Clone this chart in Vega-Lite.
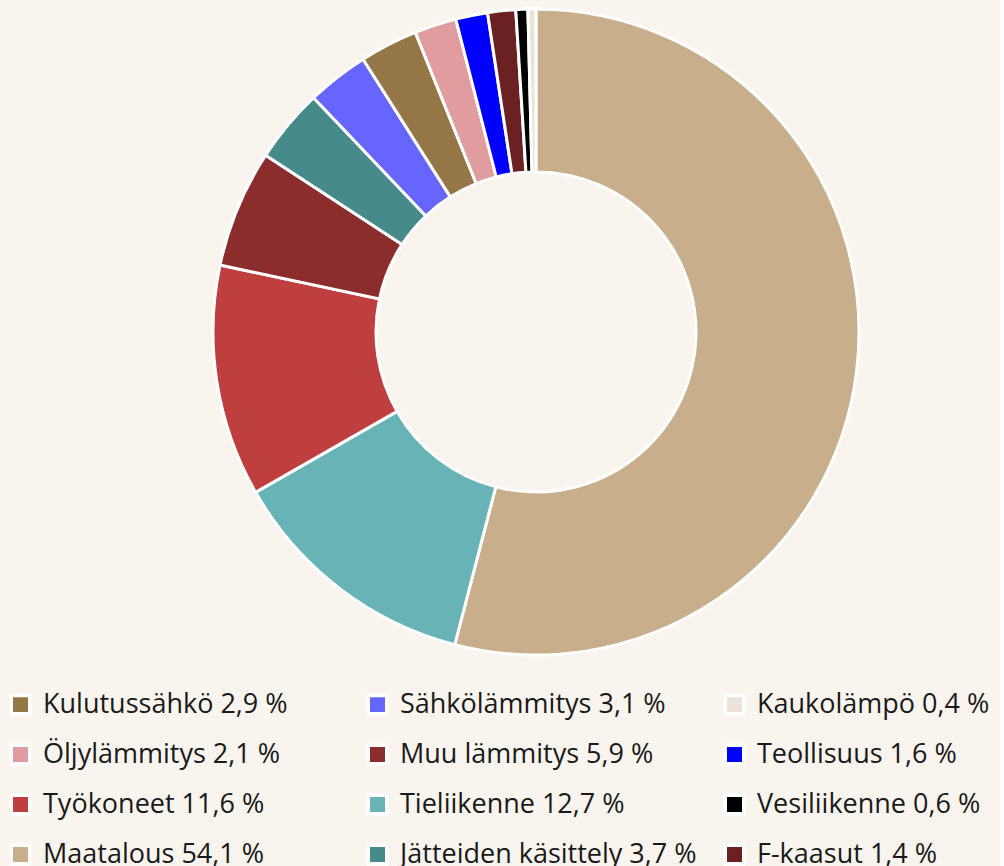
{
  "$schema": "https://vega.github.io/schema/vega-lite/v6.json",
  "width": 928,
  "height": 664,
  "padding": {"left": 7, "top": 0, "right": 0, "bottom": 0},
  "background": "#f9f4ee",
  "config": {"view": {"stroke": null}, "font": "Open Sans"},
  "data": {
    "values": [
      {"sektori": "Maatalous", "osuus": 54.1, "jarj": 1, "nimi": "Maatalous 54,1 %"},
      {"sektori": "Tieliikenne", "osuus": 12.7, "jarj": 2, "nimi": "Tieliikenne 12,7 %"},
      {"sektori": "Työkoneet", "osuus": 11.6, "jarj": 3, "nimi": "Työkoneet 11,6 %"},
      {"sektori": "Muu lämmitys", "osuus": 5.9, "jarj": 4, "nimi": "Muu lämmitys 5,9 %"},
      {"sektori": "Jätteiden käsittely", "osuus": 3.7, "jarj": 5, "nimi": "Jätteiden käsittely 3,7 %"},
      {"sektori": "Sähkölämmitys", "osuus": 3.1, "jarj": 6, "nimi": "Sähkölämmitys 3,1 %"},
      {"sektori": "Kulutussähkö", "osuus": 2.9, "jarj": 7, "nimi": "Kulutussähkö 2,9 %"},
      {"sektori": "Öljylämmitys", "osuus": 2.1, "jarj": 8, "nimi": "Öljylämmitys 2,1 %"},
      {"sektori": "Teollisuus", "osuus": 1.6, "jarj": 9, "nimi": "Teollisuus 1,6 %"},
      {"sektori": "F-kaasut", "osuus": 1.4, "jarj": 10, "nimi": "F-kaasut 1,4 %"},
      {"sektori": "Vesiliikenne", "osuus": 0.6, "jarj": 11, "nimi": "Vesiliikenne 0,6 %"},
      {"sektori": "Kaukolämpö", "osuus": 0.4, "jarj": 12, "nimi": "Kaukolämpö 0,4 %"}
    ]
  },
  "mark": {"type": "arc", "outerRadius": 323, "innerRadius": 160, "stroke": "#ffffff", "strokeWidth": 3},
  "encoding": {
    "theta": {"field": "osuus", "type": "quantitative", "stack": true},
    "order": {"field": "jarj", "type": "quantitative", "sort": "ascending"},
    "color": {
      "field": "nimi",
      "type": "nominal",
      "scale": {
        "domain": [
          "Kulutussähkö 2,9 %", "Sähkölämmitys 3,1 %", "Kaukolämpö 0,4 %",
          "Öljylämmitys 2,1 %", "Muu lämmitys 5,9 %", "Teollisuus 1,6 %",
          "Työkoneet 11,6 %", "Tieliikenne 12,7 %", "Vesiliikenne 0,6 %",
          "Maatalous 54,1 %", "Jätteiden käsittely 3,7 %", "F-kaasut 1,4 %"
        ],
        "range": [
          "#957647", "#6666ff", "#ebe3d9",
          "#e09c9e", "#8b2c2d", "#0000ff",
          "#bf3e3e", "#68b3b5", "#000000",
          "#c8ae8a", "#468a8c", "#6b2121"
        ]
      },
      "legend": {
        "title": null,
        "orient": "none",
        "legendX": -65,
        "legendY": 691,
        "columns": 3,
        "direction": "horizontal",
        "gridAlign": "all",
        "columnPadding": 21,
        "rowPadding": 17,
        "symbolType": "square",
        "symbolSize": 342,
        "symbolStrokeColor": "#ffffff",
        "symbolStrokeWidth": 3.5,
        "symbolOpacity": 1,
        "labelFontSize": 27,
        "labelFont": "Open Sans",
        "labelColor": "#1a1a1a",
        "labelLimit": 500,
        "labelOffset": 9
      }
    }
  }
}
